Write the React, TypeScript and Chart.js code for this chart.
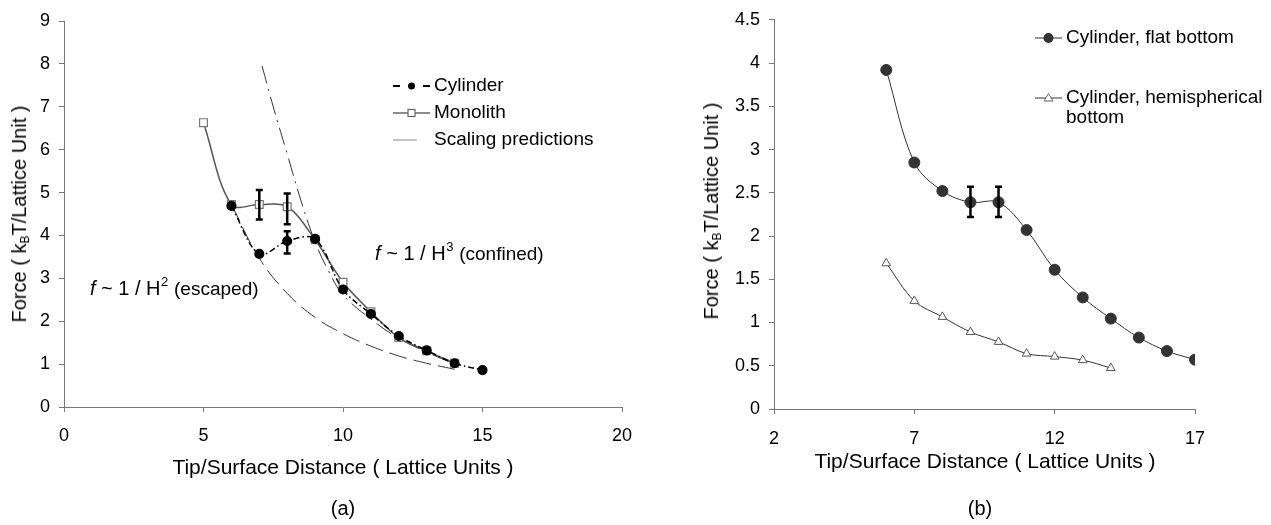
import React, { useEffect, useRef } from "react";
import { Chart, registerables } from "chart.js";

Chart.register(...registerables);

const FONT = '"Liberation Sans", Arial, Helvetica, sans-serif';

// ---------- Chart (a) data ----------
const cylinderX = [6, 7, 8, 9, 10, 11, 12, 13, 14, 15];
const cylinderY = [4.69, 3.57, 3.87, 3.92, 2.74, 2.17, 1.655, 1.32, 1.02, 0.86];
const monolithX = [5, 6, 7, 8, 9, 10, 11, 12, 13, 14];
const monolithY = [6.63, 4.72, 4.72, 4.67, 3.9, 2.91, 2.22, 1.62, 1.31, 1.02];
const escapedX = [6, 7, 8, 9, 10, 11, 12, 13, 14];
const escapedY = [4.72, 3.47, 2.65, 2.09, 1.71, 1.42, 1.19, 1.02, 0.88];
const confinedX = [7.1, 7.5, 8, 8.5, 9, 9.5, 10, 11, 12, 13, 14];
const confinedY = [7.95, 7.0, 5.9, 4.8, 3.85, 3.15, 2.62, 2.05, 1.6, 1.28, 1.0];
const cylinderErrX = [8];
const cylinderErrLow = [3.58];
const cylinderErrHigh = [4.1];
const monolithErrX = [7, 8];
const monolithErrLow = [4.37, 4.26];
const monolithErrHigh = [5.06, 4.98];
const xTicksA = [0, 5, 10, 15, 20];
const yTicksA = [0, 1, 2, 3, 4, 5, 6, 7, 8, 9];
const seriesNamesA = ["Cylinder", "Monolith", "Scaling predictions"];

// ---------- Chart (b) data ----------
const flatX = [6, 7, 8, 9, 10, 11, 12, 13, 14, 15, 16, 17];
const flatY = [3.92, 2.85, 2.52, 2.39, 2.39, 2.07, 1.61, 1.29, 1.045, 0.826, 0.67, 0.57];
const hemiX = [6, 7, 8, 9, 10, 11, 12, 13, 14];
const hemiY = [1.685, 1.25, 1.065, 0.89, 0.776, 0.64, 0.606, 0.565, 0.474];
const flatErrX = [9, 10];
const flatErrLow = [2.22, 2.22];
const flatErrHigh = [2.57, 2.57];
const xTicksB = [2, 7, 12, 17];
const yTicksB = [0, 0.5, 1, 1.5, 2, 2.5, 3, 3.5, 4, 4.5];
const seriesNamesB = ["Cylinder, flat bottom", "Cylinder, hemispherical", "bottom"];

const zip = (xs: number[], ys: number[]) => xs.map((x, i) => ({ x, y: ys[i] }));

function drawErrorBars(chart: any, xs: number[], lows: number[], highs: number[]) {
  const { ctx, scales } = chart;
  const sx = scales.x;
  const sy = scales.y;
  ctx.save();
  ctx.strokeStyle = "#000";
  ctx.lineWidth = 2.5;
  ctx.lineCap = "butt";
  xs.forEach((v, i) => {
    const px = sx.getPixelForValue(v);
    const p1 = sy.getPixelForValue(lows[i]);
    const p2 = sy.getPixelForValue(highs[i]);
    ctx.beginPath();
    ctx.moveTo(px, p1);
    ctx.lineTo(px, p2);
    ctx.moveTo(px - 3.5, p1);
    ctx.lineTo(px + 3.5, p1);
    ctx.moveTo(px - 3.5, p2);
    ctx.lineTo(px + 3.5, p2);
    ctx.stroke();
  });
  ctx.restore();
}

function drawAnnotation(chart: any, xv: number, yv: number, sup: string, tail: string) {
  const { ctx, scales } = chart;
  let px = scales.x.getPixelForValue(xv);
  const py = scales.y.getPixelForValue(yv);
  ctx.save();
  ctx.fillStyle = "#000";
  ctx.textBaseline = "alphabetic";
  ctx.textAlign = "left";
  ctx.font = `italic 20px ${FONT}`;
  ctx.fillText("f", px, py);
  px += ctx.measureText("f").width;
  ctx.font = `20px ${FONT}`;
  const mid = " ~ 1 / H";
  ctx.fillText(mid, px, py);
  px += ctx.measureText(mid).width;
  ctx.font = `13px ${FONT}`;
  ctx.fillText(sup, px + 0.5, py - 9);
  px += ctx.measureText(sup).width + 1;
  ctx.font = `19px ${FONT}`;
  ctx.fillText(tail, px, py);
  ctx.restore();
}

const overlayA = {
  id: "overlayA",
  afterDatasetsDraw(chart: any) {
    drawErrorBars(chart, monolithErrX, monolithErrLow, monolithErrHigh);
    drawErrorBars(chart, cylinderErrX, cylinderErrLow, cylinderErrHigh);
  },
  afterDraw(chart: any) {
    const ctx = chart.ctx;
    drawAnnotation(chart, 0.93, 2.61, "2", " (escaped)");
    drawAnnotation(chart, 11.15, 3.43, "3", " (confined)");
    // legend
    ctx.save();
    const lx0 = 393, lx1 = 430, tx = 434;
    const rows = [86, 113, 140];
    // Cylinder
    ctx.strokeStyle = "#000";
    ctx.lineWidth = 2;
    ctx.beginPath();
    ctx.moveTo(lx0, rows[0]);
    ctx.lineTo(lx0 + 7, rows[0]);
    ctx.moveTo(lx1 - 7, rows[0]);
    ctx.lineTo(lx1, rows[0]);
    ctx.stroke();
    ctx.fillStyle = "#000";
    ctx.beginPath();
    ctx.arc((lx0 + lx1) / 2, rows[0], 3.5, 0, Math.PI * 2);
    ctx.fill();
    // Monolith
    ctx.strokeStyle = "#666";
    ctx.lineWidth = 1.5;
    ctx.beginPath();
    ctx.moveTo(lx0, rows[1]);
    ctx.lineTo(lx1, rows[1]);
    ctx.stroke();
    ctx.fillStyle = "#fff";
    ctx.lineWidth = 1.2;
    ctx.fillRect((lx0 + lx1) / 2 - 3.5, rows[1] - 3.5, 7, 7);
    ctx.strokeRect((lx0 + lx1) / 2 - 3.5, rows[1] - 3.5, 7, 7);
    // Scaling predictions
    ctx.strokeStyle = "#888";
    ctx.lineWidth = 1;
    ctx.beginPath();
    ctx.moveTo(lx0, rows[2]);
    ctx.lineTo(lx0 + 24, rows[2]);
    ctx.stroke();
    ctx.fillStyle = "#000";
    ctx.font = `19px ${FONT}`;
    ctx.textBaseline = "middle";
    ctx.textAlign = "left";
    seriesNamesA.forEach((n, i) => ctx.fillText(n, tx, rows[i]));
    ctx.restore();
  },
};

const overlayB = {
  id: "overlayB",
  afterDatasetsDraw(chart: any) {
    drawErrorBars(chart, flatErrX, flatErrLow, flatErrHigh);
  },
  afterDraw(chart: any) {
    const ctx = chart.ctx;
    ctx.save();
    const lx0 = 385, lx1 = 412, tx = 416;
    const rows = [38, 98, 118];
    ctx.strokeStyle = "#333";
    ctx.lineWidth = 1;
    ctx.beginPath();
    ctx.moveTo(lx0, rows[0]);
    ctx.lineTo(lx1, rows[0]);
    ctx.moveTo(lx0, rows[1]);
    ctx.lineTo(lx1, rows[1]);
    ctx.stroke();
    ctx.fillStyle = "#333";
    ctx.beginPath();
    ctx.arc((lx0 + lx1) / 2, rows[0], 5, 0, Math.PI * 2);
    ctx.fill();
    const cx = (lx0 + lx1) / 2;
    ctx.fillStyle = "#fff";
    ctx.strokeStyle = "#666";
    ctx.beginPath();
    ctx.moveTo(cx, rows[1] - 4.5);
    ctx.lineTo(cx + 4.5, rows[1] + 3);
    ctx.lineTo(cx - 4.5, rows[1] + 3);
    ctx.closePath();
    ctx.fill();
    ctx.stroke();
    ctx.fillStyle = "#000";
    ctx.font = `19px ${FONT}`;
    ctx.textBaseline = "middle";
    ctx.textAlign = "left";
    seriesNamesB.forEach((n, i) => ctx.fillText(n, tx, rows[i]));
    ctx.restore();
  },
};

function axisOpts(min: number, max: number, ticks: number[], fitKey: "width" | "height", fitVal: number, pad: number) {
  return {
    type: "linear" as const,
    min,
    max,
    afterBuildTicks: (s: any) => {
      s.ticks = ticks.map((v) => ({ value: v }));
    },
    afterFit: (s: any) => {
      s[fitKey] = fitVal;
    },
    ticks: {
      autoSkip: false,
      color: "#000",
      padding: pad,
      font: { family: FONT, size: 18 },
      callback: (v: any) => String(v),
    },
    grid: {
      drawOnChartArea: false,
      drawTicks: true,
      tickLength: 5,
      color: "#777",
    },
    border: { color: "#777", width: 1 },
  };
}

function ChartA() {
  const ref = useRef<HTMLCanvasElement>(null);
  useEffect(() => {
    const chart = new Chart(ref.current!, {
      type: "line",
      data: {
        datasets: [
          {
            label: seriesNamesA[0],
            data: zip(cylinderX, cylinderY),
            borderColor: "#000",
            borderWidth: 1.5,
            borderDash: [6, 3, 1.5, 3],
            pointStyle: "circle",
            pointRadius: 4.3,
            pointBackgroundColor: "#000",
            pointBorderColor: "#000",
            tension: 0.35,
            order: 0,
          },
          {
            label: seriesNamesA[1],
            data: zip(monolithX, monolithY),
            borderColor: "#555",
            borderWidth: 1.5,
            pointStyle: "rect",
            pointRadius: 5.5,
            pointBackgroundColor: "#fff",
            pointBorderColor: "#777",
            pointBorderWidth: 1.2,
            tension: 0.35,
            order: 1,
          },
          {
            label: seriesNamesA[2],
            data: zip(escapedX, escapedY),
            borderColor: "#333",
            borderWidth: 1,
            borderDash: [18, 7],
            pointRadius: 0,
            tension: 0.4,
            order: 2,
          },
          {
            label: seriesNamesA[2],
            data: zip(confinedX, confinedY),
            borderColor: "#333",
            borderWidth: 1,
            borderDash: [18, 6, 2, 6],
            pointRadius: 0,
            tension: 0.4,
            order: 2,
          },
        ],
      },
      options: {
        animation: false,
        responsive: false,
        devicePixelRatio: 1,
        layout: { padding: { left: 0, top: 21, right: 28, bottom: 0 } },
        plugins: { legend: { display: false }, tooltip: { enabled: false } },
        scales: {
          x: axisOpts(0, 20, xTicksA, "height", 118, 13),
          y: axisOpts(0, 9, yTicksA, "width", 64, 9),
        },
      },
      plugins: [overlayA],
    });
    return () => chart.destroy();
  }, []);
  return <canvas ref={ref} width={650} height={525} style={{ position: "absolute", left: 0, top: 0 }} />;
}

function ChartB() {
  const ref = useRef<HTMLCanvasElement>(null);
  useEffect(() => {
    const chart = new Chart(ref.current!, {
      type: "line",
      data: {
        datasets: [
          {
            label: seriesNamesB[0],
            data: zip(flatX, flatY),
            borderColor: "#333",
            borderWidth: 1,
            pointStyle: "circle",
            pointRadius: 5.5,
            pointBackgroundColor: "#333",
            pointBorderColor: "#333",
            tension: 0.35,
          },
          {
            label: seriesNamesB[1] + " " + seriesNamesB[2],
            data: zip(hemiX, hemiY),
            borderColor: "#333",
            borderWidth: 1,
            pointStyle: "triangle",
            pointRadius: 5,
            pointBackgroundColor: "#fff",
            pointBorderColor: "#555",
            pointBorderWidth: 1,
            tension: 0.35,
          },
        ],
      },
      options: {
        animation: false,
        responsive: false,
        devicePixelRatio: 1,
        layout: { padding: { left: 0, top: 13, right: 76, bottom: 0 } },
        plugins: { legend: { display: false }, tooltip: { enabled: false } },
        scales: {
          x: axisOpts(2, 17, xTicksB, "height", 116, 14),
          y: axisOpts(0, 4.5, yTicksB, "width", 124, 9),
        },
      },
      plugins: [overlayB],
    });
    return () => chart.destroy();
  }, []);
  return <canvas ref={ref} width={621} height={525} style={{ position: "absolute", left: 650, top: 0 }} />;
}

const labelStyle = (left: number, top: number, size: number, rotate = false): React.CSSProperties => ({
  position: "absolute",
  left,
  top,
  transform: `translate(-50%, -50%)${rotate ? " rotate(-90deg)" : ""}`,
  whiteSpace: "nowrap",
  fontFamily: FONT,
  fontSize: size,
  color: "#000",
  lineHeight: 1,
});

const yTitle = (
  <>
    Force ( k<span style={{ fontSize: 12, position: "relative", top: 3 }}>B</span>T/Lattice Unit )
  </>
);

export default function App() {
  return (
    <div style={{ position: "fixed", left: 0, top: 0, width: 1271, height: 525, background: "#fff", overflow: "hidden" }}>
      <ChartA />
      <ChartB />
      <div style={labelStyle(19, 214, 20, true)}>{yTitle}</div>
      <div style={labelStyle(343, 466, 21)}>Tip/Surface Distance ( Lattice Units )</div>
      <div style={labelStyle(343, 508, 20)}>(a)</div>
      <div style={labelStyle(711, 211, 20, true)}>{yTitle}</div>
      <div style={labelStyle(985, 460, 21)}>Tip/Surface Distance ( Lattice Units )</div>
      <div style={labelStyle(980, 508, 20)}>(b)</div>
    </div>
  );
}
